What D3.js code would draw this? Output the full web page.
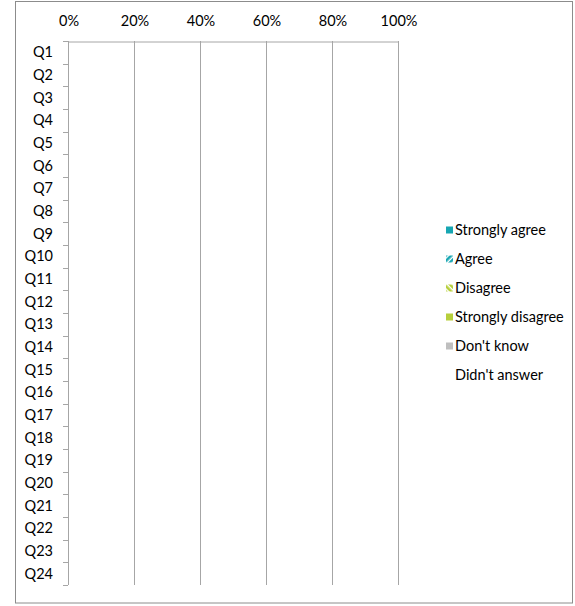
<!DOCTYPE html>
<html>
<head>
<meta charset="utf-8">
<script src="https://cdn.jsdelivr.net/npm/d3@7"></script>
<style>
  body { margin: 0; background: #fff; }
  text { font-family: Lato, "Open Sans", sans-serif; fill: #000; }
</style>
</head>
<body>
<div id="chart"></div>
<script>
// questions down the side
const questions = ["Q1","Q2","Q3","Q4","Q5","Q6","Q7","Q8","Q9","Q10","Q11","Q12",
  "Q13","Q14","Q15","Q16","Q17","Q18","Q19","Q20","Q21","Q22","Q23","Q24"];

const answers = ["Strongly agree","Agree","Disagree","Strongly disagree","Don't know","Didn't answer"];

// share of answers per question (the chart has no bars drawn)
const stronglyAgree    = [0,0,0,0,0,0,0,0,0,0,0,0,0,0,0,0,0,0,0,0,0,0,0,0];
const agree            = [0,0,0,0,0,0,0,0,0,0,0,0,0,0,0,0,0,0,0,0,0,0,0,0];
const disagree         = [0,0,0,0,0,0,0,0,0,0,0,0,0,0,0,0,0,0,0,0,0,0,0,0];
const stronglyDisagree = [0,0,0,0,0,0,0,0,0,0,0,0,0,0,0,0,0,0,0,0,0,0,0,0];
const dontKnow         = [0,0,0,0,0,0,0,0,0,0,0,0,0,0,0,0,0,0,0,0,0,0,0,0];
const noAnswer         = [0,0,0,0,0,0,0,0,0,0,0,0,0,0,0,0,0,0,0,0,0,0,0,0];

const tickValues = [0, 0.2, 0.4, 0.6, 0.8, 1];

const W = 575, H = 606;
const svg = d3.select("#chart").append("svg")
    .attr("width", W).attr("height", H);

const defs = svg.append("defs");
function stripes(id, color, dir) {
    const p = defs.append("pattern").attr("id", id)
        .attr("patternUnits", "userSpaceOnUse")
        .attr("width", 4).attr("height", 4)
        .attr("patternTransform", "rotate(" + dir + ")");
    p.append("rect").attr("width", 4).attr("height", 4).attr("fill", "#fff");
    p.append("rect").attr("width", 2.6).attr("height", 4).attr("fill", color);
}
stripes("agreeP", "#1aa7b3", 45);
stripes("disagreeP", "#b7cf3c", -45);

const colors = ["#16a6b2", "url(#agreeP)", "url(#disagreeP)", "#b7cf3c", "#bfbfbf", "none"];

// outer frame
svg.append("rect")
    .attr("x", 15.5).attr("y", 1.5)
    .attr("width", 557).attr("height", 601.5)
    .attr("fill", "none").attr("stroke", "#8c8c8c");

const x = d3.scaleLinear().domain([0, 1]).range([68, 398]);
const y = d3.scaleBand().domain(questions).range([41, 585]);

// gridlines
svg.append("g").selectAll("line").data(tickValues.slice(1)).join("line")
    .attr("x1", d => Math.round(x(d)) + 0.5).attr("x2", d => Math.round(x(d)) + 0.5)
    .attr("y1", 41).attr("y2", 585)
    .attr("stroke", "#a6a6a6");

// bars
const table = questions.map((q, i) => ({
    q,
    "Strongly agree": stronglyAgree[i],
    "Agree": agree[i],
    "Disagree": disagree[i],
    "Strongly disagree": stronglyDisagree[i],
    "Don't know": dontKnow[i],
    "Didn't answer": noAnswer[i]
}));
const stacked = d3.stack().keys(answers)(table);
svg.append("g").selectAll("g").data(stacked).join("g")
    .attr("fill", (d, i) => colors[i])
  .selectAll("rect").data(d => d).join("rect")
    .attr("x", d => x(d[0]))
    .attr("y", d => y(d.data.q) + y.bandwidth() * 0.2)
    .attr("width", d => x(d[1]) - x(d[0]))
    .attr("height", y.bandwidth() * 0.6);

// top axis
const xAxis = svg.append("g").attr("transform", "translate(0.5,41.5)")
    .call(d3.axisTop(x).tickValues(tickValues).tickFormat(d3.format(".0%")).tickSize(0).tickPadding(16));
xAxis.select(".domain").attr("stroke", "#a6a6a6");
xAxis.selectAll("text").style("font-size", "14.5px");

// left axis: ticks between categories
const leftG = svg.append("g");
leftG.append("line")
    .attr("x1", 68.5).attr("x2", 68.5).attr("y1", 41).attr("y2", 585)
    .attr("stroke", "#a6a6a6");
const bounds = questions.map(q => y(q)).concat([585]);
leftG.selectAll("line.tk").data(bounds).join("line").attr("class", "tk")
    .attr("x1", 63).attr("x2", 68)
    .attr("y1", d => Math.round(d) + 0.5).attr("y2", d => Math.round(d) + 0.5)
    .attr("stroke", "#a6a6a6");
leftG.selectAll("text").data(questions).join("text")
    .attr("x", 53).attr("y", d => y(d) + y.bandwidth() / 2)
    .attr("dy", "0.35em").attr("text-anchor", "end")
    .style("font-size", "14.5px")
    .text(d => d);

// legend
const leg = svg.append("g").selectAll("g").data(answers).join("g")
    .attr("transform", (d, i) => "translate(446," + (230 + i * 29) + ")");
leg.append("rect").attr("x", 0).attr("y", -3.5).attr("width", 7).attr("height", 7)
    .attr("fill", (d, i) => colors[i]);
leg.append("text").attr("x", 9).attr("dy", "0.35em")
    .style("font-size", "14.5px").text(d => d);
</script>
</body>
</html>
